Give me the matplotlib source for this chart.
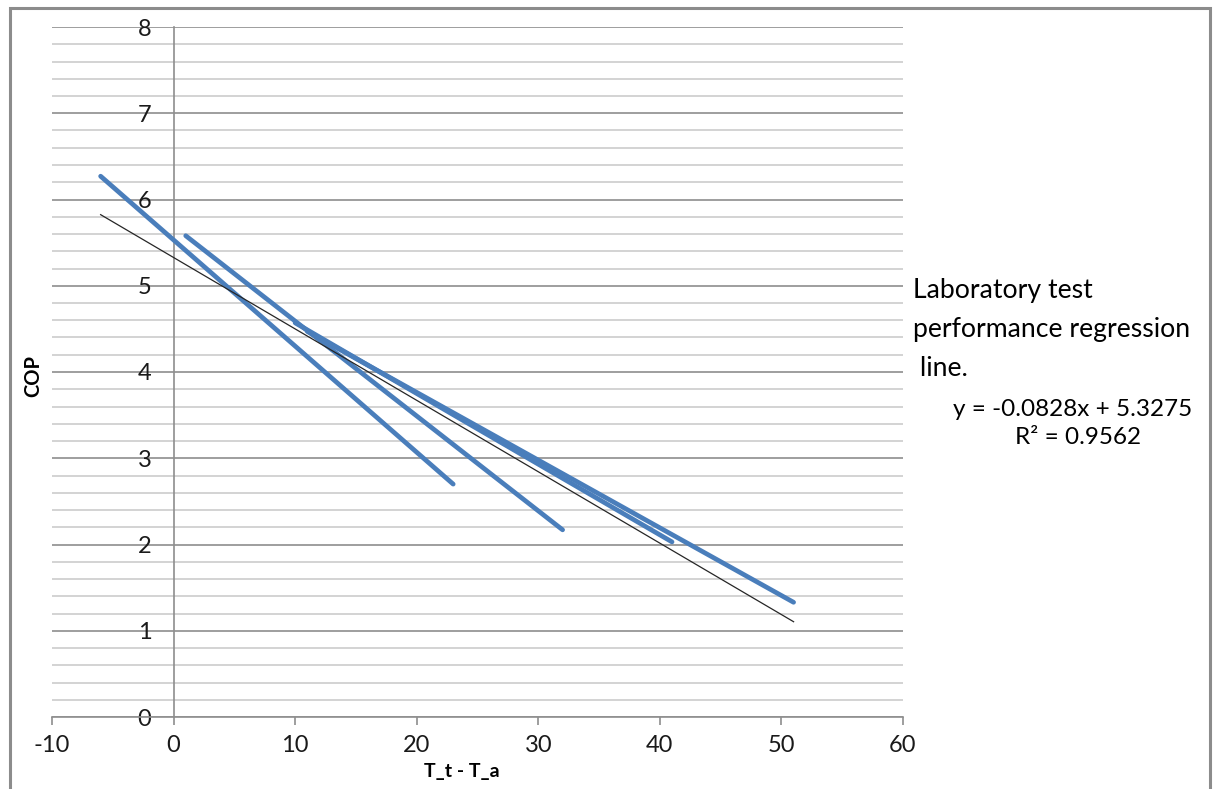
import matplotlib
matplotlib.use("Agg")
import matplotlib.pyplot as plt
import numpy as np
from matplotlib.patches import Rectangle

# ---- data ----
s1_x = [-6, 23]
s1_y = [6.27, 2.70]
s2_x = [1, 32]
s2_y = [5.58, 2.17]
s3_x = [10, 41]
s3_y = [4.57, 2.03]
s4_x = [11, 51]
s4_y = [4.47, 1.33]
slope = -0.0828
intercept = 5.3275
r2 = 0.9562
x_ticks = [-10, 0, 10, 20, 30, 40, 50, 60]
y_ticks = [0, 1, 2, 3, 4, 5, 6, 7, 8]

plt.rcParams['font.family'] = ['Lato', 'DejaVu Sans']

W, H = 1215, 789
fig = plt.figure(figsize=(W / 100, H / 100), dpi=100)
fig.patch.set_facecolor('white')

# outer chart border
fig.add_artist(Rectangle((9.5 / W, -0.05), (1210 - 9.5) / W, (H - 8) / H + 0.05,
                         transform=fig.transFigure, fill=False,
                         edgecolor='#8c8c8c', linewidth=2.2, clip_on=False))

ax = fig.add_axes([52 / W, (H - 717) / H, (903 - 52) / W, (717 - 27) / H])
ax.set_xlim(-10, 60)
ax.set_ylim(0, 8)

# gridlines
ax.set_yticks(y_ticks)
ax.set_yticks(np.arange(0, 8.01, 0.2), minor=True)
ax.yaxis.grid(True, which='minor', color='#d0d0d0', linewidth=1.3)
ax.yaxis.grid(True, which='major', color='#8e8e8e', linewidth=1.2)
ax.set_axisbelow(True)

# spines
for s in ['top', 'right']:
    ax.spines[s].set_visible(False)
ax.spines['left'].set_position(('data', 0))
ax.spines['left'].set_color('#8e8e8e')
ax.spines['left'].set_linewidth(1.2)
ax.spines['bottom'].set_color('#8e8e8e')
ax.spines['bottom'].set_linewidth(1.2)

ax.set_xticks(x_ticks)
ax.set_xticklabels([str(v) for v in x_ticks])
ax.set_yticklabels([str(v) for v in y_ticks])
ax.tick_params(axis='x', direction='out', length=6, width=1.2, color='#8e8e8e',
               labelsize=17, pad=7, labelcolor='#1a1a1a')
ax.tick_params(axis='y', which='both', length=0, labelsize=17, pad=16,
               labelcolor='#1a1a1a')

blue = '#4a7ebb'
for xs, ys in [(s1_x, s1_y), (s2_x, s2_y), (s3_x, s3_y), (s4_x, s4_y)]:
    ax.plot(xs, ys, color=blue, linewidth=3.4, solid_capstyle='round', zorder=3)

# regression trendline
all_x = s1_x + s2_x + s3_x + s4_x
tx = np.array([min(all_x), max(all_x)])
ax.plot(tx, slope * tx + intercept, color='#262626', linewidth=0.9, zorder=4)

# axis titles
fig.text(33 / W, 1 - 376 / H, 'COP', rotation=90, ha='center', va='center',
         fontsize=14.5, fontweight='bold')
fig.text(462 / W, 1 - 772 / H, 'T_t - T_a', ha='center', va='center',
         fontsize=14, fontweight='bold')

# right-side annotation
fig.text(913 / W, 1 - 291 / H, 'Laboratory test', ha='left', va='center', fontsize=19.2)
fig.text(913 / W, 1 - 330 / H, 'performance regression', ha='left', va='center', fontsize=19.2)
fig.text(913 / W, 1 - 368 / H, ' line.', ha='left', va='center', fontsize=19.2)
fig.text(1073 / W, 1 - 409 / H, f'y = {slope}x + {intercept}', ha='center', va='center',
         fontsize=17.5)
fig.text(1078 / W, 1 - 437 / H, f'R² = {r2}', ha='center', va='center', fontsize=17.5)

fig.savefig('out.png', dpi=100, facecolor='white')
